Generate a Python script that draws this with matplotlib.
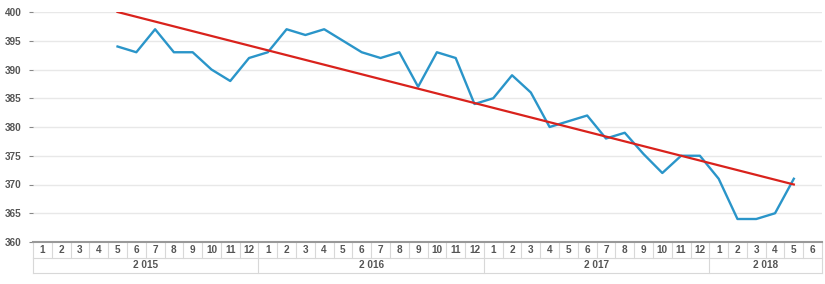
import matplotlib
matplotlib.use("Agg")
import matplotlib.pyplot as plt
import matplotlib.transforms as mtransforms

# months on the axis: 2015..2017 full, 2018 up to June
years = ["2 015", "2 016", "2 017", "2 018"]
months_per_year = [12, 12, 12, 6]

# series starts at 2015-05 (index 4)
start_idx = 4
values = [394, 393, 397, 393, 393, 390, 388, 392,
          393, 397, 396, 397, 395, 393, 392, 393, 387, 393, 392, 384,
          385, 389, 386, 380, 381, 382, 378, 379, 375.3, 372, 375, 375,
          371, 364, 364, 365, 371]

# trend line end points (index, value)
trend_x = [4, 40]
trend_y = [400, 370]

yticks = [360, 365, 370, 375, 380, 385, 390, 395, 400]

month_labels = []
year_spans = []
pos = 0
for y, n in zip(years, months_per_year):
    month_labels += [str(m) for m in range(1, n + 1)]
    year_spans.append((y, pos, pos + n))
    pos += n
n_months = len(month_labels)

fig = plt.figure(figsize=(8.25, 2.84), dpi=100)
ax = fig.add_axes([33 / 825, 42 / 284, 789 / 825, 230 / 284])

xs = list(range(start_idx, start_idx + len(values)))
ax.plot(xs, values, color="#2a95c9", lw=1.7, zorder=3)
ax.plot(trend_x, trend_y, color="#d9221c", lw=1.6, zorder=4)

ax.set_xlim(-0.5, n_months - 0.5)
ax.set_ylim(360, 400)
ax.set_yticks(yticks)
ax.set_xticks([])
ax.grid(axis="y", color="#e8e8e8", lw=1)
ax.set_axisbelow(True)
for s in ["top", "right", "left"]:
    ax.spines[s].set_visible(False)
ax.spines["bottom"].set_color("#999999")
ax.spines["bottom"].set_linewidth(1.5)
ax.tick_params(axis="y", length=3, width=0.8, color="#888888", pad=5,
               labelsize=7.2, labelcolor="#555555")
for lab in ax.get_yticklabels():
    lab.set_fontweight("bold")
    lab.set_family("Liberation Sans")

# table of months / years under the axis
trans = mtransforms.blended_transform_factory(ax.transData, ax.transAxes)
row1 = -16 / 230
row2 = -31 / 230
border = "#d8d8d8"
txt = dict(transform=trans, ha="center", va="center", fontsize=7.2,
           color="#555555", fontweight="bold", family="Liberation Sans")

for i, m in enumerate(month_labels):
    ax.text(i, row1 / 2, m, **txt)
    ax.plot([i - 0.5, i - 0.5], [0, row1], transform=trans, color=border,
            lw=0.8, clip_on=False)
ax.plot([n_months - 0.5] * 2, [0, row2], transform=trans, color=border,
        lw=0.8, clip_on=False)
ax.plot([-0.5, n_months - 0.5], [row1, row1], transform=trans, color=border,
        lw=0.8, clip_on=False)
ax.plot([-0.5, n_months - 0.5], [row2, row2], transform=trans, color=border,
        lw=0.8, clip_on=False)
for name, a, b in year_spans:
    ax.text((a + b - 1) / 2, (row1 + row2) / 2, name, **txt)
    ax.plot([a - 0.5, a - 0.5], [row1, row2], transform=trans, color=border,
            lw=0.8, clip_on=False)

fig.savefig("out.png", dpi=100)
